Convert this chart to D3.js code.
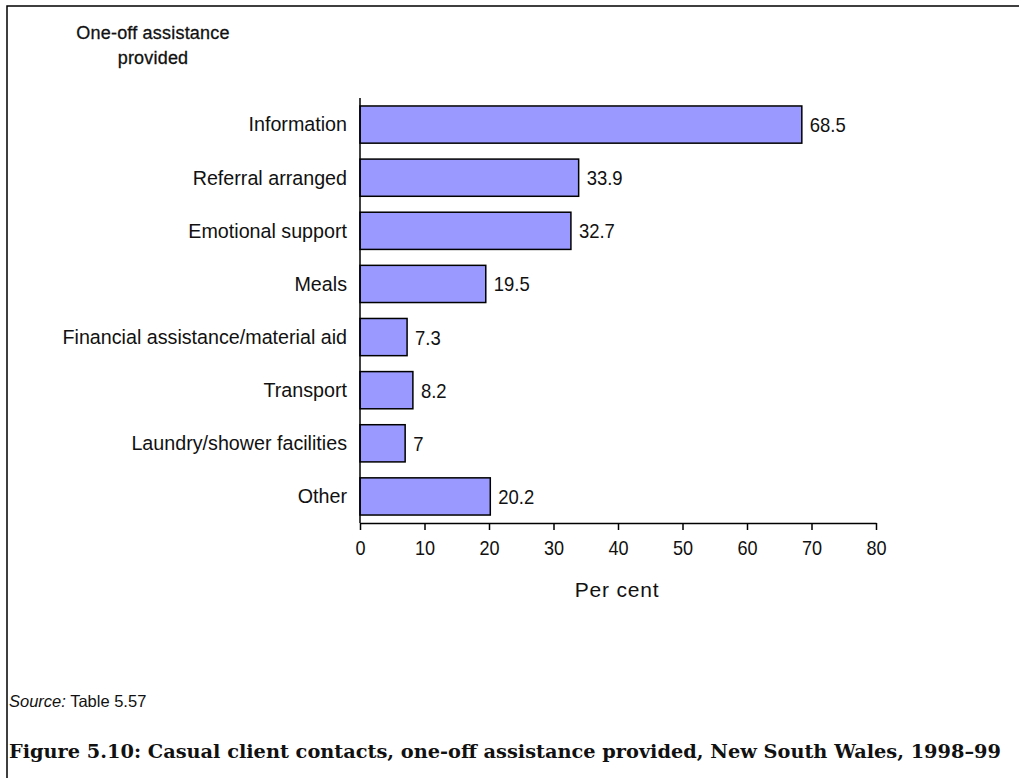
<!DOCTYPE html>
<html>
<head>
<meta charset="utf-8">
<script src="https://cdn.jsdelivr.net/npm/d3@7"></script>
<style>
  body { margin: 0; background: #fff; }
  text { fill: #111; }
</style>
</head>
<body>
<svg id="chart" width="1019" height="778"></svg>
<script>
const categories = [
  'Information',
  'Referral arranged',
  'Emotional support',
  'Meals',
  'Financial assistance/material aid',
  'Transport',
  'Laundry/shower facilities',
  'Other',
];
const values = [68.5, 33.9, 32.7, 19.5, 7.3, 8.2, 7, 20.2];
const valueLabels = ['68.5', '33.9', '32.7', '19.5', '7.3', '8.2', '7', '20.2'];
const xTicks = [0, 10, 20, 30, 40, 50, 60, 70, 80];

const sans = 'Liberation Sans, Arial, sans-serif';

// squeeze text horizontally, the original uses a narrow face
function narrow(sel, k) {
  sel.each(function () {
    const w = this.getComputedTextLength();
    d3.select(this).attr('textLength', w * k).attr('lengthAdjust', 'spacingAndGlyphs');
  });
}

const svg = d3.select('#chart');

// frame (top and left edges only show)
svg.append('path')
  .attr('d', 'M7,1000 L7,6 L1030,6')
  .attr('fill', 'none')
  .attr('stroke', '#000')
  .attr('stroke-width', 1.5);

const x = d3.scaleLinear().domain([0, 80]).range([360, 876]);
const y = d3.scaleBand().domain(categories).range([98, 523]).paddingInner(0.3).paddingOuter(0.15);

const g = svg.append('g');

// bars
g.selectAll('rect.bar')
  .data(categories)
  .join('rect')
  .attr('class', 'bar')
  .attr('x', x(0))
  .attr('y', (d) => y(d))
  .attr('width', (d, i) => x(values[i]) - x(0))
  .attr('height', y.bandwidth())
  .attr('fill', '#9999ff')
  .attr('stroke', '#000')
  .attr('stroke-width', 1.5);

// value labels
g.selectAll('text.val')
  .data(categories)
  .join('text')
  .attr('class', 'val')
  .attr('x', (d, i) => x(values[i]) + 8)
  .attr('y', (d) => y(d) + y.bandwidth() / 2 + 7.5)
  .attr('font-family', sans)
  .attr('font-size', 21)
  .text((d, i) => valueLabels[i])
  .call(narrow, 0.88);

// y axis
const yAxis = g.append('g')
  .attr('transform', `translate(${x(0)},0)`)
  .call(d3.axisLeft(y).tickSize(0).tickPadding(13));
yAxis.select('.domain').attr('stroke', '#000').attr('stroke-width', 1.5)
  .attr('d', 'M0,98V523');
yAxis.selectAll('text')
  .attr('font-family', sans)
  .attr('font-size', 19.7)
  .attr('dy', '0.35em')
  .attr('fill', '#111');

// x axis
const xAxis = g.append('g')
  .attr('transform', 'translate(0,523)')
  .call(d3.axisBottom(x).tickValues(xTicks).tickSize(7).tickSizeOuter(0).tickPadding(10));
xAxis.select('.domain').attr('stroke', '#000').attr('stroke-width', 1.5);
xAxis.selectAll('line').attr('stroke', '#000').attr('stroke-width', 1.5);
xAxis.selectAll('text')
  .attr('font-family', sans)
  .attr('font-size', 21)
  .attr('fill', '#111')
  .call(narrow, 0.86);

// axis titles
svg.append('text')
  .attr('x', 617).attr('y', 597)
  .attr('text-anchor', 'middle')
  .attr('font-family', sans)
  .attr('font-size', 21)
  .attr('letter-spacing', 0.8)
  .text('Per cent');

const yTitle = svg.append('text')
  .attr('text-anchor', 'middle')
  .attr('font-family', sans)
  .attr('font-size', 18)
  .attr('stroke', '#111')
  .attr('stroke-width', 0.3)
  .attr('letter-spacing', 0.2);
yTitle.append('tspan').attr('x', 153).attr('y', 39).text('One-off assistance');
yTitle.append('tspan').attr('x', 153).attr('y', 64).text('provided');

// source note
const src = svg.append('text')
  .attr('x', 9).attr('y', 707)
  .attr('font-family', sans)
  .attr('font-size', 16.5);
src.append('tspan').attr('font-style', 'italic').text('Source:');
src.append('tspan').text(' Table 5.57');

// caption
svg.append('text')
  .attr('x', 9).attr('y', 758)
  .attr('font-family', 'DejaVu Serif, Liberation Serif, serif')
  .attr('font-weight', 'bold')
  .attr('font-size', 18.5)
  .attr('textLength', 992)
  .attr('lengthAdjust', 'spacingAndGlyphs')
  .text('Figure 5.10: Casual client contacts, one-off assistance provided, New South Wales, 1998\u201399');
</script>
</body>
</html>
